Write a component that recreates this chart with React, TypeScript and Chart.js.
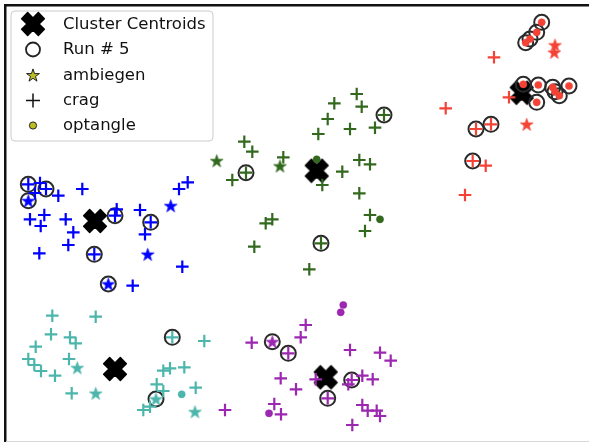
import React, { useEffect, useRef } from "react";
import { Chart, registerables } from "chart.js";

Chart.register(...registerables);

type P = [number, number];

// ---- data (arbitrary embedding units) ----
const centroids: P[] = [
  [9.0, 22.0], [31.17, 27.03], [51.67, 34.83], [11.0, 7.2], [32.07, 6.37],
];

const run5: P[] = [
  [2.33, 25.67], [4.1, 25.2], [2.33, 24.03], [11.0, 22.53], [14.57, 21.87], [8.93, 18.67], [10.33, 15.7],
  [37.9, 32.6], [24.1, 26.83], [31.6, 19.77],
  [53.67, 41.87], [53.17, 40.87], [52.5, 40.2], [52.07, 39.83], [51.83, 35.67], [53.33, 35.6],
  [54.77, 35.37], [55.0, 34.93], [55.43, 34.53], [56.4, 35.5], [53.17, 33.87],
  [48.6, 31.67], [47.1, 31.2], [46.77, 28.0],
  [16.73, 10.37], [15.1, 4.2],
  [26.73, 9.93], [28.33, 8.77], [34.67, 6.1], [32.27, 4.27],
];

// blue cluster
const blueStar: P[] = [[2.33, 24.03], [16.57, 23.53], [14.27, 18.67], [10.33, 15.7]];
const blueCrag: P[] = [
  [2.33, 25.67], [3.5, 25.8], [4.1, 25.2], [3.0, 24.8], [5.33, 24.53], [7.73, 25.2], [18.27, 25.87],
  [17.4, 25.2], [2.5, 22.17], [3.93, 22.6], [3.57, 21.5], [6.07, 22.17], [11.0, 22.53], [11.17, 23.17],
  [13.5, 23.1], [14.57, 21.87], [14.0, 20.67], [6.83, 20.87], [6.33, 19.6], [3.43, 18.77], [8.93, 18.67],
  [17.73, 17.43], [12.77, 15.53],
];
const blueDot: P[] = [];

// green cluster
const greenStar: P[] = [[21.17, 28.03], [27.5, 27.5]];
const greenCrag: P[] = [
  [35.17, 34.7], [32.93, 33.77], [35.67, 33.43], [37.9, 32.6], [32.27, 32.2], [34.5, 31.2], [37.0, 31.33],
  [31.33, 30.7], [23.93, 29.93], [24.73, 28.93], [27.83, 28.37], [24.1, 26.83], [22.73, 26.1], [31.73, 25.6],
  [33.73, 26.93], [35.43, 28.1], [36.5, 27.67], [35.43, 24.77], [36.5, 22.6], [36.0, 21.0], [26.73, 22.17],
  [26.07, 21.77], [24.93, 19.43], [31.6, 19.77], [30.43, 17.17],
];
const greenDot: P[] = [[31.17, 28.17], [37.5, 22.17]];

// red cluster
const redStar: P[] = [[55.0, 39.6], [54.93, 38.87], [52.17, 31.67]];
const redCrag: P[] = [
  [48.9, 38.37], [50.4, 34.37], [44.07, 33.27], [48.6, 31.67], [47.1, 31.2], [46.77, 28.0], [48.07, 27.53], [46.0, 24.6],
];
const redDot: P[] = [
  [53.67, 41.87], [53.17, 40.87], [52.5, 40.2], [52.07, 39.83], [51.83, 35.67], [53.33, 35.6],
  [54.77, 35.37], [55.0, 34.93], [55.43, 34.53], [56.4, 35.5], [53.17, 33.87],
];

// cyan cluster
const cyanStar: P[] = [[7.23, 7.33], [15.1, 4.2], [19.0, 2.93], [9.07, 4.77]];
const cyanCrag: P[] = [
  [4.73, 12.53], [9.07, 12.43], [4.6, 10.67], [6.5, 10.37], [7.07, 9.77], [3.07, 9.43], [16.73, 10.37],
  [19.93, 10.0], [2.33, 8.2], [2.93, 7.6], [3.6, 7.0], [6.4, 8.2], [5.0, 6.53], [15.83, 7.03], [16.5, 7.27],
  [17.93, 7.37], [15.17, 5.67], [15.83, 5.0], [19.07, 5.33], [14.5, 3.43], [13.83, 3.1], [6.67, 4.77],
];
const cyanDot: P[] = [[17.67, 4.67]];

// purple cluster
const purpleStar: P[] = [[26.73, 9.93]];
const purpleCrag: P[] = [
  [30.07, 11.6], [29.57, 10.37], [24.67, 9.83], [28.33, 8.77], [34.5, 9.1], [37.5, 8.83], [38.57, 8.03],
  [27.57, 6.27], [31.07, 6.17], [34.67, 6.1], [35.73, 6.53], [36.77, 6.17], [34.33, 5.67], [29.1, 5.17],
  [32.27, 4.27], [26.93, 3.7], [27.6, 2.67], [22.0, 3.1], [35.73, 3.6], [36.27, 3.03], [37.17, 3.03],
  [37.5, 2.5], [34.73, 1.6],
];
const purpleDot: P[] = [[33.83, 13.6], [33.57, 12.87], [26.4, 2.77]];

const legendLabels = ["Cluster Centroids", "Run # 5", "ambiegen", "crag", "optangle"];

const clusters = [
  { color: "#0000ff", star: blueStar, crag: blueCrag, dot: blueDot },
  { color: "#33691e", star: greenStar, crag: greenCrag, dot: greenDot },
  { color: "#f44336", star: redStar, crag: redCrag, dot: redDot },
  { color: "#4db6ac", star: cyanStar, crag: cyanCrag, dot: cyanDot },
  { color: "#9c27b0", star: purpleStar, crag: purpleCrag, dot: purpleDot },
];

const OLIVE = "#bcbd22";

function xPath(ctx: CanvasRenderingContext2D, cx: number, cy: number, L: number, w: number) {
  const pts: P[] = [
    [w, L], [w, w], [L, w], [L, -w], [w, -w], [w, -L],
    [-w, -L], [-w, -w], [-L, -w], [-L, w], [-w, w], [-w, L],
  ];
  const c = Math.SQRT1_2;
  ctx.beginPath();
  pts.forEach(([px, py], i) => {
    const rx = (px - py) * c;
    const ry = (px + py) * c;
    if (i === 0) ctx.moveTo(cx + rx, cy + ry);
    else ctx.lineTo(cx + rx, cy + ry);
  });
  ctx.closePath();
}

function makeX(size: number): HTMLCanvasElement {
  const cv = document.createElement("canvas");
  cv.width = size;
  cv.height = size;
  const ctx = cv.getContext("2d")!;
  const L = size / 2 - 1.2;
  xPath(ctx, size / 2, size / 2, L * 1.0, L * 0.36);
  ctx.fillStyle = "#000";
  ctx.fill();
  ctx.lineJoin = "round";
  ctx.lineWidth = 1.5;
  ctx.strokeStyle = "#000";
  ctx.stroke();
  return cv;
}

function starPath(ctx: CanvasRenderingContext2D, cx: number, cy: number, r: number) {
  const ri = r * 0.382;
  ctx.beginPath();
  for (let i = 0; i < 10; i++) {
    const a = -Math.PI / 2 + (i * Math.PI) / 5;
    const rr = i % 2 === 0 ? r : ri;
    const x = cx + rr * Math.cos(a);
    const y = cy + rr * Math.sin(a);
    if (i === 0) ctx.moveTo(x, y);
    else ctx.lineTo(x, y);
  }
  ctx.closePath();
}

function makeStar(r: number, fill: string, stroke: string, lw: number): HTMLCanvasElement {
  const size = Math.ceil(r * 2 + lw * 2 + 2);
  const cv = document.createElement("canvas");
  cv.width = size;
  cv.height = size;
  const ctx = cv.getContext("2d")!;
  starPath(ctx, size / 2, size / 2 + r * 0.1, r);
  ctx.fillStyle = fill;
  ctx.fill();
  ctx.lineJoin = "miter";
  ctx.lineWidth = lw;
  ctx.strokeStyle = stroke;
  ctx.stroke();
  return cv;
}

const toXY = (arr: P[]) => arr.map(([x, y]) => ({ x, y }));

export default function App() {
  const ref = useRef<HTMLCanvasElement | null>(null);

  useEffect(() => {
    if (!ref.current) return;
    const xImg = makeX(26);
    const legendX = makeX(26);
    const legendStar = makeStar(6.8, OLIVE, "#222", 1);

    const datasets: any[] = [];
    datasets.push({
      label: legendLabels[0],
      data: toXY(centroids),
      pointStyle: xImg,
      order: 10,
    });
    datasets.push({
      label: legendLabels[1],
      data: toXY(run5),
      pointStyle: "circle",
      pointRadius: 7.5,
      pointBorderWidth: 2,
      pointBorderColor: "#2a2a2a",
      pointBackgroundColor: "rgba(0,0,0,0)",
      order: 9,
    });
    clusters.forEach((c) => {
      datasets.push({
        label: legendLabels[2],
        data: toXY(c.star),
        pointStyle: makeStar(6.6, c.color, c.color, 0.8),
        order: 8,
      });
      datasets.push({
        label: legendLabels[3],
        data: toXY(c.crag),
        pointStyle: "cross",
        pointRadius: 6.3,
        pointBorderWidth: 2.2,
        pointBorderColor: c.color,
        pointBackgroundColor: c.color,
        order: 7,
      });
      datasets.push({
        label: legendLabels[4],
        data: toXY(c.dot),
        pointStyle: "circle",
        pointRadius: 3.6,
        pointBorderWidth: 0.5,
        pointBorderColor: c.color,
        pointBackgroundColor: c.color,
        order: 6,
      });
    });

    const framePlugin = {
      id: "frame",
      afterDraw(chart: any) {
        const ctx = chart.ctx as CanvasRenderingContext2D;
        ctx.save();
        // axes frame (figure cropped at right/bottom)
        ctx.fillStyle = "#111";
        ctx.fillRect(4, 4, 600, 2.5);
        ctx.fillRect(4, 4, 2.5, 440);
        ctx.fillStyle = "#d8d8d8";
        ctx.fillRect(6, 441, 600, 1);

        // legend
        const bx = 11, by = 11, bw = 202, bh = 130, r = 4;
        ctx.beginPath();
        ctx.moveTo(bx + r, by);
        ctx.lineTo(bx + bw - r, by);
        ctx.quadraticCurveTo(bx + bw, by, bx + bw, by + r);
        ctx.lineTo(bx + bw, by + bh - r);
        ctx.quadraticCurveTo(bx + bw, by + bh, bx + bw - r, by + bh);
        ctx.lineTo(bx + r, by + bh);
        ctx.quadraticCurveTo(bx, by + bh, bx, by + bh - r);
        ctx.lineTo(bx, by + r);
        ctx.quadraticCurveTo(bx, by, bx + r, by);
        ctx.closePath();
        ctx.fillStyle = "rgba(255,255,255,0.8)";
        ctx.fill();
        ctx.lineWidth = 1;
        ctx.strokeStyle = "#cccccc";
        ctx.stroke();

        const mx = 33;
        const ys = [24, 49.5, 75, 100.5, 125.5];
        // centroid
        ctx.drawImage(legendX, mx - legendX.width / 2, ys[0] - legendX.height / 2);
        // run 5 circle
        ctx.beginPath();
        ctx.arc(mx, ys[1], 7, 0, Math.PI * 2);
        ctx.lineWidth = 1.8;
        ctx.strokeStyle = "#222";
        ctx.stroke();
        // star
        ctx.drawImage(legendStar, mx - legendStar.width / 2, ys[2] - legendStar.height / 2);
        // plus
        ctx.beginPath();
        ctx.moveTo(mx - 7, ys[3]);
        ctx.lineTo(mx + 7, ys[3]);
        ctx.moveTo(mx, ys[3] - 7);
        ctx.lineTo(mx, ys[3] + 7);
        ctx.lineWidth = 1.5;
        ctx.strokeStyle = "#111";
        ctx.stroke();
        // dot
        ctx.beginPath();
        ctx.arc(mx, ys[4], 3.6, 0, Math.PI * 2);
        ctx.fillStyle = OLIVE;
        ctx.fill();
        ctx.lineWidth = 1;
        ctx.strokeStyle = "#222";
        ctx.stroke();

        ctx.fillStyle = "#111";
        ctx.font = '16.5px "DejaVu Sans"';
        ctx.textBaseline = "middle";
        ctx.textAlign = "left";
        legendLabels.forEach((t, i) => ctx.fillText(t, 63, ys[i] + 0.5));
        ctx.restore();
      },
    };

    const chart = new Chart(ref.current, {
      type: "scatter",
      data: { datasets },
      options: {
        animation: false,
        responsive: false,
        events: [],
        layout: { autoPadding: false, padding: { left: 5, top: 5, right: 0, bottom: 1 } },
        plugins: { legend: { display: false }, tooltip: { enabled: false } },
        scales: {
          x: { type: "linear", min: 0, max: 58.4, display: false },
          y: { type: "linear", min: 0, max: 43.6, display: false },
        },
      },
      plugins: [framePlugin],
    });
    return () => chart.destroy();
  }, []);

  return (
    <div style={{ position: "fixed", left: 0, top: 0, width: 589, height: 442, background: "#fff" }}>
      <canvas ref={ref} width={589} height={442} style={{ width: 589, height: 442 }} />
    </div>
  );
}
